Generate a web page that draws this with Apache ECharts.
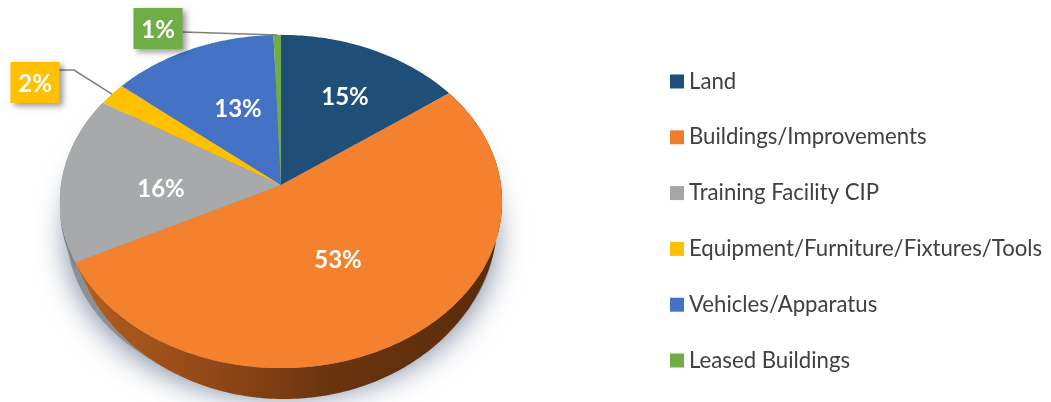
<!DOCTYPE html>
<html>
<head>
<meta charset="utf-8">
<style>
	html, body { margin: 0; padding: 0; background: #fff; }
	#chart { width: 1051px; height: 402px; }
</style>
<script src="https://cdn.jsdelivr.net/npm/echarts@6/dist/echarts.min.js"></script>
</head>
<body>
<div id="chart"></div>
<script>
	"use strict";

	const categories = ["Land", "Buildings/Improvements", "Training Facility CIP", "Equipment/Furniture/Fixtures/Tools", "Vehicles/Apparatus", "Leased Buildings"];
	// the labels round these to whole percents
	const shares = [15, 52.6, 16.2, 2.2, 13.4, 0.6];
	const legendColors = ["#1F4E79", "#ED7D31", "#A5A5A5", "#FFC000", "#4472C4", "#70AD47"];
	const topColors = ["#1F4E79", "#F4812E", "#A7A9AA", "#FFC000", "#4472C4", "#70AD47"];

	// label centres on the page, and which ones sit in a callout box
	const labelCentres = [[345, 97], [338, 260], [161, 189], [35, 84], [238, 109], [158, 30]];
	const calloutBends = [null, null, null, [74, 70], null, [183, 32]];

	const PIE = { cx: 281, cy: 185, rx: 220, ry: 165, tilt: 0.099 };
	// lower edge of the disc, it only shows where it leaves the top face
	const BASE = { cx: 284, cy: 216, rx: 214, ry: 183 };
	const total = shares.reduce((a, b) => a + b, 0);

	// circle point -> page, the tilt makes the near edge bigger than the far one
	function project(deg, scale, dy) {
		const a = deg * Math.PI / 180;
		const u = Math.sin(a), v = -Math.cos(a);
		const w = 1 - PIE.tilt * v;
		return [PIE.cx + PIE.rx * scale * u / w, PIE.cy + dy + PIE.ry * scale * v / w];
	}

	function projectBase(deg) {
		const a = deg * Math.PI / 180;
		return [BASE.cx + BASE.rx * Math.sin(a), BASE.cy - BASE.ry * Math.cos(a)];
	}

	function arc(from, to, fn) {
		const pts = [];
		const steps = Math.max(2, Math.ceil(to - from));
		for (let i = 0; i <= steps; i++) {
			pts.push(fn(from + (to - from) * i / steps));
		}
		return pts;
	}

	function sideFill() {
		return new echarts.graphic.LinearGradient(70, 0, 500, 0, [
			{ offset: 0, color: "#B5601F" },
			{ offset: 0.35, color: "#8F4616" },
			{ offset: 0.6, color: "#6B340F" },
			{ offset: 1, color: "#592B0B" }
		], true);
	}

	function renderSlice(params, api) {
		const i = params.seriesIndex;
		const before = shares.slice(0, i).reduce((a, b) => a + b, 0);
		const from = before / total * 360;
		const to = (before + api.value(0)) / total * 360;
		const mid = (from + to) / 2;
		const top = arc(from, to, (d) => project(d, 1, 0));
		const children = [];

		if (i === 0) {
			// soft shadow under the whole disc
			children.push({
				type: "polygon", z2: 0, silent: true,
				shape: { points: arc(0, 360, (d) => project(d, 0.97, 30)) },
				style: { fill: "#8c8f94", shadowBlur: 30, shadowColor: "rgba(105,120,145,0.85)", shadowOffsetY: 5 }
			});
		}
		if (i === 1) {
			children.push({
				type: "polygon", z2: 1, silent: true,
				shape: { points: top.concat(arc(from, to, projectBase).reverse()) },
				style: { fill: sideFill() }
			});
		}
		if (i === 2) {
			// thin dark sliver on the left of the grey slice
			children.push({
				type: "polygon", z2: 1, silent: true,
				shape: { points: top.concat(arc(from, to, (d) => project(d, 1, 5)).reverse()) },
				style: { fill: "#7C8184" }
			});
		}
		children.push({
			type: "polygon", z2: 10, silent: true,
			shape: { points: [[PIE.cx, PIE.cy]].concat(top) },
			style: { fill: topColors[i] }
		});

		const c = labelCentres[i];
		const bend = calloutBends[i];
		if (bend) {
			const end = project(mid, 1, 0);
			children.push({
				type: "polyline", z2: 12, silent: true,
				shape: { points: i === 3 ? [[c[0] + 24, bend[1]], bend, end] : [bend, end] },
				style: { fill: null, stroke: "#7F7F7F", lineWidth: 1.5 }
			});
			children.push({
				type: "rect", z2: 13, silent: true,
				shape: { x: c[0] - 24.5, y: c[1] - 22, width: 49, height: 41 },
				style: { fill: legendColors[i], shadowBlur: 6, shadowOffsetX: 3, shadowOffsetY: 3, shadowColor: "rgba(0,0,0,0.4)" }
			});
		}
		children.push({
			type: "text", z2: 20, silent: true,
			style: {
				x: c[0], y: c[1], text: Math.round(api.value(0)) + "%",
				fill: "#fff", font: "bold 24px Lato", textAlign: "center", textVerticalAlign: "middle"
			}
		});
		return { type: "group", children: children };
	}

	const chart = echarts.init(document.getElementById("chart"), null, { renderer: "canvas" });
	chart.setOption({
		animation: false,
		color: legendColors,
		legend: {
			data: categories,
			orient: "vertical",
			left: 665,
			top: 65,
			icon: "rect",
			itemWidth: 14,
			itemHeight: 14,
			itemGap: 32.8,
			selectedMode: false,
			textStyle: { color: "#404040", fontFamily: "Lato", fontSize: 22.2, lineHeight: 23 }
		},
		series: categories.map((name, i) => ({
			type: "custom",
			name: name,
			coordinateSystem: "none",
			renderItem: renderSlice,
			data: [shares[i]],
			itemStyle: { color: legendColors[i] }
		}))
	});
	window.addEventListener("resize", () => { chart.resize(); });
</script>
</body>
</html>
